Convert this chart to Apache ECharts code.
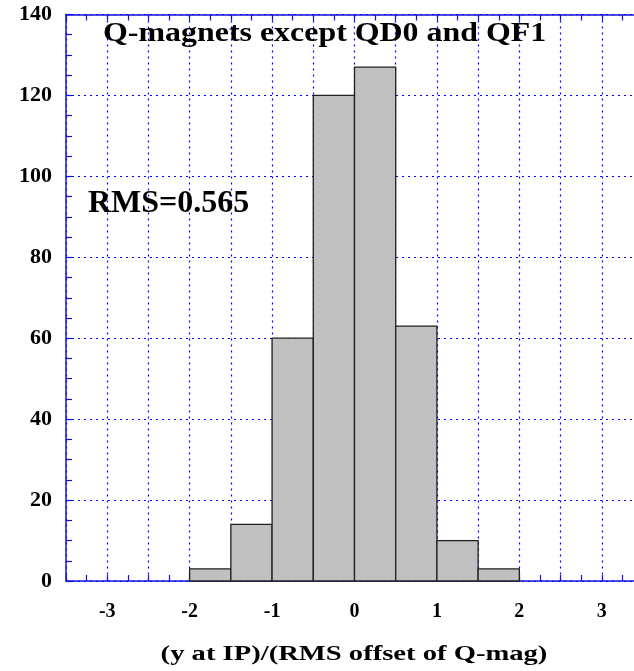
<!DOCTYPE html>
<html>
<head>
<meta charset="utf-8">
<script src="https://cdn.jsdelivr.net/npm/echarts@6/dist/echarts.min.js"></script>
<style>html,body{margin:0;padding:0;background:#fff;}#c{width:634px;height:671px;}</style>
</head>
<body>
<div id="c"></div>
<script>
// Histogram bins (left edge, right edge) and counts
const binStarts = [-2.0, -1.5, -1.0, -0.5, 0.0, 0.5, 1.0, 1.5];
const binEnds   = [-1.5, -1.0, -0.5, 0.0, 0.5, 1.0, 1.5, 2.0];
const counts    = [3, 14, 60, 120, 127, 63, 10, 3];
const xTickLabels = ['-3', '-2', '-1', '0', '1', '2', '3'];
const yTickLabels = ['0', '20', '40', '60', '80', '100', '120', '140'];
const titleText = 'Q-magnets except QD0 and QF1';
const rmsText = 'RMS=0.565';
const xAxisTitle = '(y at IP)/(RMS offset of Q-mag)';

const FONT = '"Liberation Serif", "Times New Roman", serif';
const BLUE = '#1010e0';

const chart = echarts.init(document.getElementById('c'), null, {renderer: 'canvas'});
const histData = binStarts.map((s, i) => [s, binEnds[i], counts[i]]);

const option = {
  backgroundColor: '#fff',
  animation: false,
  grid: {left: 66, top: 14.5, width: 577, height: 566.5, containLabel: false, outerBoundsMode: 'none'},
  xAxis: [{
    type: 'value', min: -3.5, max: 3.5, interval: 0.5, position: 'bottom',
    axisLine: {show: true, onZero: false, lineStyle: {color: BLUE, width: 1.5}},
    axisTick: {show: true, inside: true, length: 6, lineStyle: {color: BLUE, width: 1.2}},
    minorTick: {show: true, splitNumber: 2, length: 6, lineStyle: {color: BLUE, width: 1.2}},
    splitLine: {show: true, lineStyle: {color: '#0000ff', width: 1.2, type: [2, 4]}},
    axisLabel: {
      margin: 21, color: '#000', fontFamily: FONT, fontWeight: 'bold', fontSize: 20,
      showMinLabel: true, showMaxLabel: true,
      formatter: v => {
        const s = String(Math.round(v));
        return (Math.abs(v - Math.round(v)) < 1e-9 && xTickLabels.includes(s)) ? s : '';
      }
    }
  }, {
    type: 'value', min: -3.5, max: 3.5, interval: 0.5, position: 'top',
    axisLine: {show: true, onZero: false, lineStyle: {color: BLUE, width: 1.5}},
    axisTick: {show: true, inside: true, length: 6, lineStyle: {color: BLUE, width: 1.2}},
    minorTick: {show: true, splitNumber: 2, length: 6, lineStyle: {color: BLUE, width: 1.2}},
    splitLine: {show: false},
    axisLabel: {show: false}
  }],
  yAxis: [{
    type: 'value', min: 0, max: 140, interval: 20,
    axisLine: {show: true, onZero: false, lineStyle: {color: BLUE, width: 1.5}},
    axisTick: {show: true, inside: true, length: 6, lineStyle: {color: BLUE, width: 1.2}},
    minorTick: {show: true, splitNumber: 4, length: 6, lineStyle: {color: BLUE, width: 1.2}},
    splitLine: {show: true, lineStyle: {color: '#0000ff', width: 1.2, type: [2, 4]}},
    axisLabel: {
      margin: 14, color: '#000', fontFamily: FONT, fontWeight: 'bold', fontSize: 22,
      showMinLabel: true, showMaxLabel: true,
      formatter: v => yTickLabels.includes(String(v)) ? String(v) : ''
    }
  }],
  series: [{
    type: 'custom',
    xAxisIndex: 0, yAxisIndex: 0,
    data: histData,
    encode: {x: [0, 1], y: 2},
    renderItem: function (params, api) {
      const p0 = api.coord([api.value(0), api.value(2)]);
      const p1 = api.coord([api.value(1), 0]);
      return {
        type: 'rect',
        shape: {x: p0[0], y: p0[1], width: p1[0] - p0[0], height: p1[1] - p0[1]},
        style: {fill: '#c0c0c0', stroke: '#202020', lineWidth: 1.3}
      };
    },
    z: 3
  }],
  graphic: [
    {type: 'text', x: 103, y: 34.0, scaleX: 1.14, z: 10,
     style: {text: titleText, fill: '#000', font: 'bold 28px ' + FONT, align: 'left', verticalAlign: 'middle'}},
    {type: 'text', x: 88, y: 204.2, z: 10,
     style: {text: rmsText, fill: '#000', font: 'bold 32px ' + FONT, align: 'left', verticalAlign: 'middle'}},
    {type: 'text', x: 354, y: 654.6, scaleX: 1.3, z: 10,
     style: {text: xAxisTitle, fill: '#000', font: 'bold 22px ' + FONT, align: 'center', verticalAlign: 'middle'}}
  ]
};
chart.setOption(option);
</script>
</body>
</html>
